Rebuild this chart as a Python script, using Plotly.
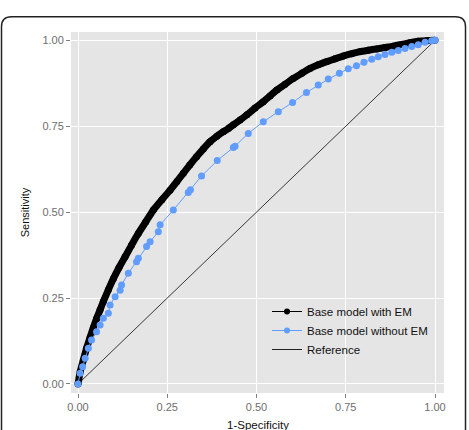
import plotly.graph_objects as go

# ---- data ----
em_fpr = [0.0, 0.006, 0.015, 0.024, 0.034, 0.043, 0.052, 0.062, 0.071, 0.085, 0.099, 0.115,
          0.132, 0.150, 0.169, 0.190, 0.211, 0.235, 0.258, 0.277, 0.295, 0.313, 0.332, 0.351,
          0.370, 0.389, 0.407, 0.422, 0.435, 0.454, 0.473, 0.496, 0.519, 0.538, 0.557, 0.580,
          0.603, 0.627, 0.650, 0.673, 0.697, 0.720, 0.743, 0.767, 0.790, 0.813, 0.837, 0.860,
          0.883, 0.906, 0.930, 0.953, 0.977, 1.0]
em_tpr = [0.0, 0.035, 0.070, 0.104, 0.136, 0.164, 0.190, 0.216, 0.240, 0.274, 0.306, 0.339,
          0.370, 0.404, 0.438, 0.472, 0.506, 0.536, 0.564, 0.589, 0.613, 0.637, 0.661, 0.684,
          0.705, 0.721, 0.734, 0.744, 0.754, 0.768, 0.783, 0.803, 0.821, 0.838, 0.855, 0.872,
          0.889, 0.904, 0.918, 0.929, 0.938, 0.946, 0.954, 0.961, 0.967, 0.971, 0.975, 0.979,
          0.983, 0.988, 0.993, 0.997, 0.999, 1.0]

noem_fpr = [0.0, 0.006, 0.013, 0.020, 0.029, 0.038, 0.052, 0.062, 0.071, 0.085, 0.090, 0.104,
            0.118, 0.122, 0.141, 0.164, 0.169, 0.192, 0.202, 0.225, 0.230, 0.267, 0.309, 0.315,
            0.346, 0.390, 0.435, 0.440, 0.477, 0.519, 0.561, 0.601, 0.640, 0.673, 0.701, 0.732,
            0.757, 0.780, 0.801, 0.823, 0.841, 0.860, 0.879, 0.897, 0.916, 0.935, 0.953, 0.972,
            0.991, 1.0]
noem_tpr = [0.0, 0.031, 0.050, 0.075, 0.104, 0.128, 0.152, 0.172, 0.191, 0.206, 0.230, 0.254,
            0.273, 0.288, 0.322, 0.356, 0.366, 0.400, 0.414, 0.443, 0.463, 0.506, 0.557, 0.565,
            0.605, 0.650, 0.688, 0.692, 0.729, 0.763, 0.792, 0.819, 0.848, 0.870, 0.887, 0.904,
            0.917, 0.926, 0.936, 0.945, 0.952, 0.959, 0.965, 0.970, 0.976, 0.982, 0.987, 0.994,
            0.999, 1.0]

ref_x = [0.0, 1.0]
ref_y = [0.0, 1.0]

tick_vals = [0.0, 0.25, 0.5, 0.75, 1.0]
tick_text = ["0.00", "0.25", "0.50", "0.75", "1.00"]

series_names = ["Base model with EM", "Base model without EM", "Reference"]
x_title = "1-Specificity"
y_title = "Sensitivity"
BLACK = "#000000"
BLUE = "#619CFF"
FONT = "Liberation Sans, Arial, Helvetica, sans-serif"

fig = go.Figure()

# reference diagonal
fig.add_trace(go.Scatter(x=ref_x, y=ref_y, mode="lines",
                         line=dict(color="#222222", width=0.9),
                         showlegend=False, hoverinfo="skip"))
# base model with EM (dense thick curve)
fig.add_trace(go.Scatter(x=em_fpr, y=em_tpr, mode="lines+markers",
                         line=dict(color=BLACK, width=7, shape="spline", smoothing=0.6),
                         marker=dict(color=BLACK, size=7),
                         showlegend=False))
# base model without EM
fig.add_trace(go.Scatter(x=noem_fpr, y=noem_tpr, mode="lines+markers",
                         line=dict(color=BLUE, width=1),
                         marker=dict(color=BLUE, size=7),
                         showlegend=False))

# legend-only entries
fig.add_trace(go.Scatter(x=[None], y=[None], mode="lines+markers", name=series_names[0],
                         line=dict(color=BLACK, width=1), marker=dict(color=BLACK, size=6)))
fig.add_trace(go.Scatter(x=[None], y=[None], mode="lines+markers", name=series_names[1],
                         line=dict(color=BLUE, width=1), marker=dict(color=BLUE, size=6)))
fig.add_trace(go.Scatter(x=[None], y=[None], mode="lines", name=series_names[2],
                         line=dict(color="#222222", width=1)))

L, R, T, B = 71, 25, 32, 37
W, H = 469, 430
pw, ph = W - L - R, H - T - B

def px_x(p):
    return (p - L) / pw

def px_y(p):
    return (H - B - p) / ph

x0, x1 = px_x(1.5), px_x(465.5)
yt, yb = px_y(16.7), px_y(450)
rx, ry = 10 / pw, 10 / ph
frame_path = (f"M {x0},{yb} L {x0},{yt - ry} Q {x0},{yt} {x0 + rx},{yt} "
              f"L {x1 - rx},{yt} Q {x1},{yt} {x1},{yt - ry} L {x1},{yb}")

axis_common = dict(
    tickvals=tick_vals, ticktext=tick_text,
    showgrid=True, gridcolor="#FFFFFF", gridwidth=1.2,
    zeroline=False, showline=False, automargin=False,
    ticks="outside", ticklen=4, tickcolor="#7F7F7F", tickwidth=1,
    tickfont=dict(family=FONT, size=11, color="#6E6E6E"),
)

fig.update_layout(
    width=W, height=H,
    margin=dict(l=L, r=R, t=T, b=B),
    paper_bgcolor="#FFFFFF", plot_bgcolor="#E5E5E5",
    font=dict(family=FONT, size=11, color="#111111"),
    xaxis=dict(range=[-0.0196, 1.0252], **axis_common),
    yaxis=dict(range=[-0.0262, 1.0241],
               title=dict(text=y_title, font=dict(family=FONT, size=11, color="#111111"),
                          standoff=10),
               **axis_common),
    legend=dict(x=px_x(267), y=px_y(297), xanchor="left", yanchor="top",
                bgcolor="rgba(0,0,0,0)", borderwidth=0,
                font=dict(family=FONT, size=11.5, color="#111111"),
                itemwidth=30, tracegroupgap=0),
    annotations=[dict(text=x_title, xref="paper", yref="paper",
                      x=0.5, y=px_y(425), xanchor="center", yanchor="middle",
                      showarrow=False, font=dict(family=FONT, size=11.5, color="#111111"))],
    shapes=[dict(type="path", xref="paper", yref="paper", path=frame_path,
                 line=dict(color="#222222", width=1.5), layer="above")],
    showlegend=True,
)

fig.write_html("out.html")
